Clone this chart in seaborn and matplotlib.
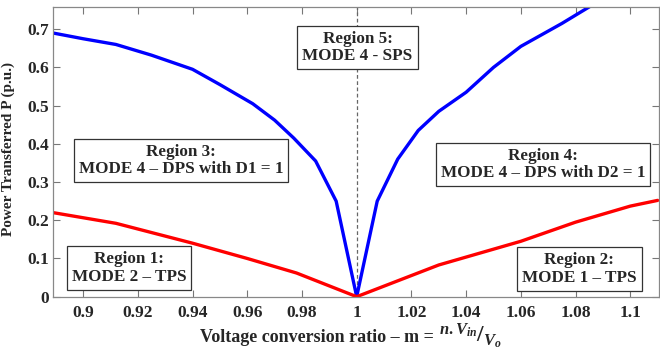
import matplotlib
matplotlib.use("Agg")
import matplotlib.pyplot as plt
import seaborn as sns
import pandas as pd
import numpy as np

# Data
blue_x = [0.889, 0.900, 0.912, 0.925, 0.940, 0.950, 0.962, 0.970, 0.977, 0.985, 0.9925, 1.000,
          1.0075, 1.015, 1.0225, 1.030, 1.040, 1.050, 1.060, 1.075, 1.090]
blue_y = [0.690, 0.675, 0.660, 0.632, 0.595, 0.555, 0.505, 0.462, 0.415, 0.355, 0.250, 0.000,
          0.250, 0.360, 0.435, 0.485, 0.535, 0.600, 0.655, 0.715, 0.780]
red_x = [0.889, 0.912, 0.940, 0.960, 0.978, 1.000, 1.030, 1.060, 1.080, 1.100, 1.110]
red_y = [0.220, 0.192, 0.140, 0.100, 0.062, 0.000, 0.083, 0.145, 0.195, 0.237, 0.252]
xticks = [0.9, 0.92, 0.94, 0.96, 0.98, 1.0, 1.02, 1.04, 1.06, 1.08, 1.1]
xticklabels = ["0.9", "0.92", "0.94", "0.96", "0.98", "1", "1.02", "1.04", "1.06", "1.08", "1.1"]
yticks = [0, 0.1, 0.2, 0.3, 0.4, 0.5, 0.6, 0.7]
yticklabels = ["0", "0.1", "0.2", "0.3", "0.4", "0.5", "0.6", "0.7"]
region_texts = ["Region 1:\nMODE 2 – TPS", "Region 2:\nMODE 1 – TPS",
                "Region 3:\nMODE 4 – DPS with D1 = 1", "Region 4:\nMODE 4 – DPS with D2 = 1",
                "Region 5:\nMODE 4 - SPS"]
region_pos = [(0.9168, 0.075), (1.0813, 0.0725), (0.9358, 0.3565), (1.0681, 0.346), (1.0003, 0.652)]
xlabel_main = "Voltage conversion ratio – m = "
xlabel_frac = r"$^{n.V_{in}}/_{V_o}$"

sns.set_theme(style="white")
plt.rcParams['font.family'] = ['Liberation Serif', 'DejaVu Serif']
plt.rcParams['font.weight'] = 'bold'
plt.rcParams['mathtext.fontset'] = 'custom'
plt.rcParams['mathtext.rm'] = 'Liberation Serif:bold'
plt.rcParams['mathtext.it'] = 'Liberation Serif:bold:italic'
plt.rcParams['mathtext.bf'] = 'Liberation Serif:bold'

W, H = 660, 356
fig = plt.figure(figsize=(6.6, 3.56), dpi=100)
ax = fig.add_axes([0.0803, 0.1666, 0.9182, 0.8137])

df_b = pd.DataFrame({"m": blue_x, "P": blue_y})
df_r = pd.DataFrame({"m": red_x, "P": red_y})
sns.lineplot(data=df_b, x="m", y="P", ax=ax, color="#0000ff", lw=2.4, sort=False, estimator=None)
sns.lineplot(data=df_r, x="m", y="P", ax=ax, color="#ff0000", lw=2.4, sort=False, estimator=None)
ax.axvline(1.0, color="#666666", lw=0.9, ls=(0, (3, 2)), zorder=1)

ax.set_xlim(0.889, 1.1105)
ax.set_ylim(0, 0.758)
ax.set_xticks(xticks)
ax.set_xticklabels(xticklabels, fontsize=12.5, fontweight='bold')
ax.set_yticks(yticks)
ax.set_yticklabels(yticklabels, fontsize=12.5, fontweight='bold')
ax.tick_params(direction='in', length=5, width=0.8, color="#777777", top=True, right=True,
               bottom=True, left=True)
ax.tick_params(axis='x', pad=6)
ax.tick_params(axis='y', pad=3)
for s in ax.spines.values():
    s.set_color("#888888")
    s.set_linewidth(0.9)

ax.set_xlabel("")
ax.set_ylabel("Power Transferred P (p.u.)", fontsize=11, fontweight='bold')
ax.yaxis.set_label_coords((15 - 53) / 606, (296.7 - 149) / 289.7)

# x label: main text + larger fraction
base_y = 1 - 342 / H
lab = fig.text(319 / W, base_y, xlabel_main, ha='center', va='baseline', fontsize=13,
               fontweight='bold')
fig.canvas.draw()
bb = lab.get_window_extent()
fig.text((bb.x1 + 1) / W, base_y, xlabel_frac, ha='left', va='baseline', fontsize=17,
         fontweight='bold')

for t, (x, y) in zip(region_texts, region_pos):
    ax.text(x, y, t, ha='center', va='center', fontsize=12.3, fontweight='bold',
            linespacing=1.1,
            bbox=dict(boxstyle='square,pad=0.3', fc='white', ec='#333333', lw=0.9), zorder=5)

fig.savefig("out.png", dpi=100)
